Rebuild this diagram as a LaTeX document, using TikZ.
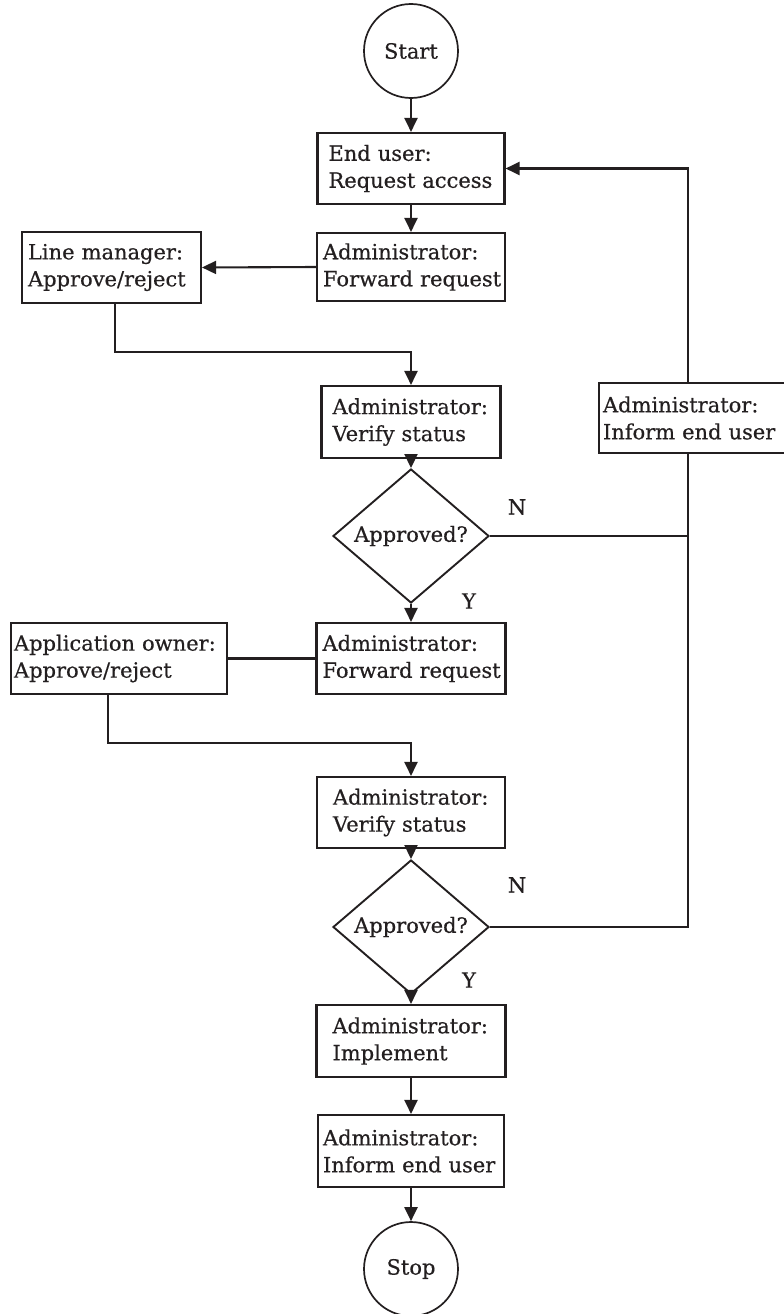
\documentclass[tikz,border=0pt]{standalone}
\usepackage{fontspec}
\setmainfont{DejaVu Serif}[FakeBold=0.5]
\usetikzlibrary{arrows.meta,shapes.geometric,calc}
\definecolor{ink}{RGB}{35,31,32}
\hyphenpenalty=10000
\exhyphenpenalty=10000
\begin{document}
\begin{tikzpicture}[x=1pt,y=-1pt,
  every node/.style={font=\fontsize{21}{27}\selectfont, text=ink},
  line/.style={draw=ink, line width=2.1pt},
  arr/.style={line, -{Triangle[length=14pt,width=13pt]}},
  proc/.style={draw=ink, line width=2.1pt, rectangle, align=left, inner xsep=0pt, inner ysep=0pt},
  term/.style={draw=ink, line width=1.7pt, circle, inner sep=0pt, minimum size=94pt},
  decide/.style={draw=ink, line width=1.9pt, diamond, inner sep=0pt, minimum width=156pt, minimum height=96pt},
  tag/.style={inner sep=0pt}
]
\useasboundingbox (0,0) rectangle (784,1314);

% terminals
\node[term] (start) at (411,51) {Start};
\node[term] (stop) at (411,1269) {Stop};

% process boxes
\node[proc, minimum width=187pt, minimum height=71pt, text width=165pt] (b1) at (411,168.5) {End~user:\\Request~access};
\node[proc, minimum width=188pt, minimum height=68pt, text width=176pt] (b2) at (411,267) {Administrator:\\Forward~request};
\node[proc, minimum width=179pt, minimum height=71pt, text width=167pt] (lm) at (111.5,267.5) {Line~manager:\\Approve/reject};
\node[proc, minimum width=179pt, minimum height=72pt, text width=157pt] (b3) at (411,422) {Administrator:\\Verify~status};
\node[proc, minimum width=200pt, minimum height=70pt, text width=192pt] (inf) at (699,418) {Administrator:\\Inform~end~user};
\node[proc, minimum width=189pt, minimum height=71pt, text width=177pt] (b4) at (411,658.5) {Administrator:\\Forward~request};
\node[proc, minimum width=216pt, minimum height=71pt, text width=210pt] (ao) at (119,658.5) {Application~owner:\\Approve/reject};
\node[proc, minimum width=188pt, minimum height=71pt, text width=156pt] (b5) at (411,812.5) {Administrator:\\Verify~status};
\node[proc, minimum width=189pt, minimum height=72pt, text width=157pt] (b6) at (411,1041) {Administrator:\\Implement};
\node[proc, minimum width=186pt, minimum height=72pt, text width=176pt] (b7) at (411,1151) {Administrator:\\Inform~end~user};

% decisions
\node[decide] (d1) at (411,536) {Approved?};
\node[decide] (d2) at (411,927) {Approved?};

% branch labels
\node[tag] (n1) at (517,507) {N};
\node[tag] (y1) at (469,601) {Y};
\node[tag] (n2) at (517,885) {N};
\node[tag] (y2) at (469,980) {Y};

% return rail on the right
\coordinate (rail) at (688,0);

% main flow
\draw[arr] (start) -- (b1);
\draw[arr] (b1) -- (b2);
\draw[arr] (b2.west) -- (lm.east);
\draw[arr] ($(lm.south west)!0.52!(lm.south east)$) -- ++(0,48) -| (b3.north);
\draw[arr] (b3) -- (d1);
\draw[arr] (d1) -- (b4);
\draw[line] (b4.west) -- (ao.east);
\draw[arr] ($(ao.south west)!0.45!(ao.south east)$) -- ++(0,48) -| (b5.north);
\draw[arr] (b5) -- (d2);
\draw[arr] (d2) -- (b6);
\draw[arr] (b6) -- (b7);
\draw[arr] (b7) -- (stop);

% rejection path
\draw[line] (d1.east) -- (d1.east -| rail);
\draw[line] (d2.east) -| (inf.south -| rail);
\draw[arr] (inf.north -| rail) |- (b1.east);
\end{tikzpicture}
\end{document}
